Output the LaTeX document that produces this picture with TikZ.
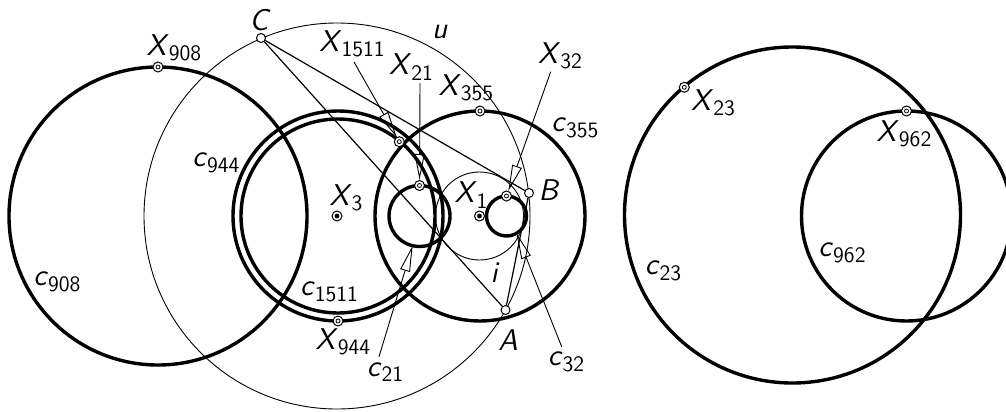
\documentclass[tikz,border=0pt]{standalone}
\usetikzlibrary{arrows.meta}
\pgfdeclarelayer{back}
\pgfsetlayers{back,main}
\newcommand{\idx}[2]{\textsl{#1}{\fontsize{11}{12}\selectfont\upshape\raisebox{-2.8pt}{#2}}}

\begin{document}
\begin{tikzpicture}[x=0.5pt,y=-0.5pt,
    heavy/.style={line width=1.7pt},
    light/.style={line width=0.45pt},
    side/.style={line width=0.6pt},
    lead/.style={line width=0.45pt,-{Triangle[open,length=13pt,width=5pt]}},
    xpt/.style={circle,draw,fill=white,line width=0.5pt,inner sep=0pt,minimum size=5pt,
        path picture={\draw[black,line width=0.4pt] (path picture bounding box.center) circle (1pt);}},
    cpt/.style={circle,draw,fill=white,line width=0.5pt,inner sep=0pt,minimum size=5pt,
        path picture={\fill[black] (path picture bounding box.center) circle (1.2pt);}},
    vpt/.style={circle,draw,fill=white,line width=0.5pt,inner sep=0pt,minimum size=4.5pt},
    txt/.style={font=\sffamily\fontsize{15}{17}\selectfont,inner sep=0pt}]
    \useasboundingbox (0,0) rectangle (1006,412);

    % points
    \node[cpt] (X3) at (337,216) {};
    \node[cpt] (X1) at (479.5,216) {};
    \node[vpt] (A) at (505.5,310) {};
    \node[vpt] (B) at (529,193) {};
    \node[vpt] (C) at (261,38) {};
    \node[xpt] (X908) at (158,67) {};
    \node[xpt] (X944) at (338,321) {};
    \node[xpt] (X1511) at (399.3,141.7) {};
    \node[xpt] (X355) at (480,111) {};
    \node[xpt] (X21) at (419.5,185.5) {};
    \node[xpt] (X32) at (506.5,196) {};
    \node[xpt] (X23) at (684.3,87.3) {};
    \node[xpt] (X962) at (906.5,111) {};

    % circles and triangle
    \begin{pgfonlayer}{back}
        \draw[light] (X3) circle (193);
        \draw[light] (X1) circle (44);
        \draw[heavy] (158,216) circle (149);
        \draw[heavy] (338,216) circle (105);
        \draw[heavy] (338,216) circle (97);
        \draw[heavy] (480,216) circle (105);
        \draw[heavy] (419.5,216) circle (30.5);
        \draw[heavy] (506.5,216) circle (20);
        \draw[heavy] (792.5,215) circle (168);
        \draw[heavy] (906.5,216) circle (105);
        \draw[side] (C) -- (B);
        \draw[side] (B) -- (A);
        \draw[side] (A) -- (C);
    \end{pgfonlayer}

    % leaders
    \coordinate (s1511) at (354,62);
    \coordinate (s21) at (420,83);
    \coordinate (s32) at (550.7,71.7);
    \coordinate (s c21) at (379,356.7);
    \coordinate (t c21) at (412.6,245.7);
    \coordinate (s c32) at (561.7,346.7);
    \coordinate (t c32) at (516.5,233.3);
    \draw[lead] (s1511) -- (X1511);
    \draw[lead] (s21) -- (X21);
    \draw[lead] (s32) -- (X32);
    \draw[lead] (s c21) -- (t c21);
    \draw[lead] (s c32) -- (t c32);

    % labels
    \node[txt] (lC) at (260,20) {\textsl{C}};
    \node[txt] (lB) at (549,190) {\textsl{B}};
    \node[txt] (lA) at (508,340) {\textsl{A}};
    \node[txt] (lu) at (440,32) {\textsl{u}};
    \node[txt] (li) at (495,273) {\textsl{i}};
    \node[txt] (lX1511) at (352,44) {\idx{X}{1511}};
    \node[txt] (lX21) at (411,67) {\idx{X}{21}};
    \node[txt] (lX355) at (466,88) {\idx{X}{355}};
    \node[txt] (lX32) at (560,56) {\idx{X}{32}};
    \node[txt] (lX1) at (471,195) {\idx{X}{1}};
    \node[txt] (lX3) at (346,198) {\idx{X}{3}};
    \node[txt] (lX944) at (343,342) {\idx{X}{944}};
    \node[txt] (lX908) at (174,48) {\idx{X}{908}};
    \node[txt] (lX23) at (713,103) {\idx{X}{23}};
    \node[txt] (lX962) at (904,134) {\idx{X}{962}};
    \node[txt] (lc355) at (575,128) {\idx{c}{355}};
    \node[txt] (lc944) at (216,163) {\idx{c}{944}};
    \node[txt] (lc1511) at (329,292) {\idx{c}{1511}};
    \node[txt] (lc21) at (385,372) {\idx{c}{21}};
    \node[txt] (lc32) at (566,362) {\idx{c}{32}};
    \node[txt] (lc908) at (57,282) {\idx{c}{908}};
    \node[txt] (lc23) at (663,271) {\idx{c}{23}};
    \node[txt] (lc962) at (842,253) {\idx{c}{962}};
\end{tikzpicture}
\end{document}
